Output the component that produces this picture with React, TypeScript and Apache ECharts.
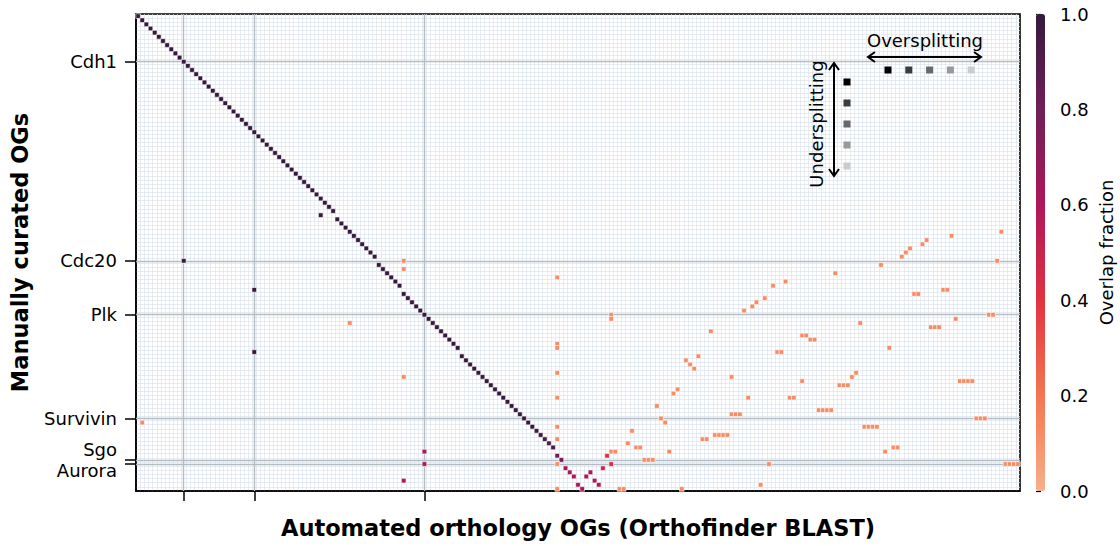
import React, { useEffect, useRef } from "react";
import * as echarts from "echarts";

const N_COLS = 213;
const N_ROWS = 115;

const yTickRows = [11, 59, 72, 97, 107, 108];
const yTickNames = ["Cdh1", "Cdc20", "Plk", "Survivin", "Sgo", "Aurora"];
const xTickCols = [11, 28, 69];

const colorbarTicks = [0, 0.2, 0.4, 0.6, 0.8, 1.0];
const rocketColors = ["#f6b08a", "#f37651", "#e13342", "#ad1759", "#701f57", "#35193e"];

// [col, row, overlap]
const diagonalCells = [
  [0, 0, 1], [1, 1, 1], [2, 2, 1], [3, 3, 1], [4, 4, 1], [5, 5, 1], [6, 6, 1], [7, 7, 1],
  [8, 8, 1], [9, 9, 1], [10, 10, 1], [11, 11, 1], [12, 12, 1], [13, 13, 1], [14, 14, 1],
  [15, 15, 1], [16, 16, 1], [17, 17, 1], [18, 18, 1], [19, 19, 1], [20, 20, 1], [21, 21, 1],
  [22, 22, 1], [23, 23, 1], [24, 24, 1], [25, 25, 1], [26, 26, 1], [27, 27, 1], [28, 28, 1],
  [29, 29, 1], [30, 30, 1], [31, 31, 1], [32, 32, 1], [33, 33, 1], [34, 34, 1], [35, 35, 1],
  [36, 36, 1], [37, 37, 1], [38, 38, 1], [39, 39, 1], [40, 40, 1], [41, 41, 1], [42, 42, 1],
  [43, 43, 1], [44, 44, 1], [45, 45, 1], [46, 46, 1], [47, 47, 1],
  [48, 49, 1], [49, 50, 1], [50, 51, 1], [51, 52, 1], [52, 53, 1], [53, 54, 1], [54, 55, 1],
  [55, 56, 1], [56, 57, 1], [57, 58, 1],
  [58, 60, 1], [59, 61, 1], [60, 62, 1], [61, 63, 1], [62, 64, 1], [63, 65, 1],
  [64, 67, 1], [65, 68, 1], [66, 69, 1], [67, 70, 1], [68, 71, 1], [69, 72, 1], [70, 73, 1],
  [71, 74, 1], [72, 75, 1], [73, 76, 1], [74, 77, 1], [75, 78, 1], [76, 79, 1], [77, 80, 1],
  [78, 82, 1], [79, 83, 1], [80, 84, 1], [81, 85, 1], [82, 86, 1], [83, 87, 1], [84, 88, 1],
  [85, 89, 1], [86, 90, 1], [87, 91, 1], [88, 92, 1], [89, 93, 1], [90, 94, 1], [91, 95, 1],
  [92, 96, 1], [93, 97, 1], [94, 98, 1], [95, 99, 1], [96, 100, 0.97], [97, 101, 0.97],
  [98, 102, 0.95], [99, 103, 0.93], [100, 104, 0.92],
];

const offDiagonalDark = [
  [44, 48, 1], [11, 59, 1], [28, 66, 1], [28, 81, 1],
];

const redCells = [
  [101, 106, 0.82], [102, 107, 0.78], [103, 109, 0.62], [104, 110, 0.6], [105, 111, 0.6],
  [106, 113, 0.6], [107, 114, 0.6], [108, 111, 0.6], [109, 110, 0.6], [110, 112, 0.58],
  [111, 113, 0.58], [112, 109, 0.5], [113, 106, 0.42], [114, 108, 0.45],
  [64, 112, 0.6], [69, 105, 0.6], [69, 108, 0.6],
];

const orangeCells = [
  [1, 98, 0.12], [51, 74, 0.12], [64, 59, 0.12], [64, 61, 0.12], [64, 87, 0.12],
  [101, 63, 0.12], [101, 79, 0.12], [101, 80, 0.12], [101, 86, 0.12], [101, 92, 0.12],
  [101, 99, 0.12], [101, 102, 0.12], [101, 108, 0.12], [101, 114, 0.12],
  [114, 72, 0.12], [114, 73, 0.12], [114, 105, 0.12], [115, 105, 0.12],
  [116, 114, 0.12], [117, 114, 0.12], [118, 103, 0.12], [119, 100, 0.12], [120, 104, 0.12],
  [121, 104, 0.12], [122, 107, 0.12], [123, 107, 0.12], [124, 107, 0.12], [125, 94, 0.12],
  [126, 97, 0.12], [127, 98, 0.12], [128, 105, 0.12], [129, 91, 0.12], [130, 90, 0.12],
  [131, 114, 0.12], [132, 83, 0.12], [133, 84, 0.12], [134, 85, 0.12], [135, 82, 0.12],
  [136, 102, 0.12], [137, 102, 0.12], [138, 76, 0.12], [139, 101, 0.12], [140, 101, 0.12],
  [141, 101, 0.12], [142, 101, 0.12], [143, 87, 0.12], [143, 96, 0.12], [144, 96, 0.12],
  [145, 96, 0.12], [146, 71, 0.12], [147, 92, 0.12], [148, 70, 0.12], [149, 69, 0.12],
  [150, 113, 0.12], [151, 68, 0.12], [152, 108, 0.12], [153, 65, 0.12], [154, 81, 0.12],
  [155, 81, 0.12], [156, 64, 0.12], [157, 92, 0.12], [158, 92, 0.12], [160, 77, 0.12],
  [161, 77, 0.12], [160, 88, 0.12], [162, 78, 0.12], [163, 78, 0.12], [164, 95, 0.12],
  [165, 95, 0.12], [166, 95, 0.12], [167, 95, 0.12], [168, 62, 0.12], [169, 89, 0.12],
  [170, 89, 0.12], [171, 89, 0.12], [172, 87, 0.12], [173, 86, 0.12], [174, 74, 0.12],
  [175, 99, 0.12], [176, 99, 0.12], [177, 99, 0.12], [178, 99, 0.12], [179, 60, 0.12],
  [180, 105, 0.12], [181, 80, 0.12], [182, 104, 0.12], [183, 104, 0.12], [184, 58, 0.12],
  [185, 57, 0.12], [186, 56, 0.12], [187, 67, 0.12], [188, 67, 0.12], [189, 55, 0.12],
  [190, 54, 0.12], [191, 75, 0.12], [192, 75, 0.12], [193, 75, 0.12], [194, 66, 0.12],
  [195, 66, 0.12], [196, 53, 0.12], [197, 73, 0.12], [198, 88, 0.12], [199, 88, 0.12],
  [200, 88, 0.12], [201, 88, 0.12], [202, 97, 0.12], [203, 97, 0.12], [204, 97, 0.12],
  [205, 72, 0.12], [206, 72, 0.12], [207, 59, 0.12], [208, 52, 0.12], [209, 108, 0.12],
  [210, 108, 0.12], [211, 108, 0.12], [212, 108, 0.12],
];

const legendShades = ["#000000", "#3c3c3c", "#696969", "#999999", "#cccccc"];

const FONT = "DejaVu Sans";
const TICK_FS = 18;
const TITLE_FS = 22.5;

export default function App() {
  const ref = useRef<HTMLDivElement>(null);

  useEffect(() => {
    document.body.style.margin = "0";
    if (!ref.current) return;
    const chart = echarts.init(ref.current, null, { renderer: "svg" });

    const xCats = Array.from({ length: N_COLS }, (_, i) => String(i));
    const yCats = Array.from({ length: N_ROWS }, (_, i) => String(i));
    const cells = [...diagonalCells, ...offDiagonalDark, ...redCells, ...orangeCells];

    const gridLeft = 136;
    const gridTop = 14;
    const gridW = 884;
    const gridH = 477;

    const Z = 50;
    const graphics: any[] = [];
    graphics.push({
      type: "text", x: 925, y: 40, z: Z,
      style: { text: "Oversplitting", fontSize: 18, fontFamily: FONT, fill: "#000", align: "center", verticalAlign: "middle" },
    });
    graphics.push({ type: "line", z: Z, shape: { x1: 868, y1: 57, x2: 981, y2: 57 }, style: { stroke: "#000", lineWidth: 2 } });
    graphics.push({ type: "polyline", z: Z, shape: { points: [[875, 52], [868, 57], [875, 62]] }, style: { stroke: "#000", lineWidth: 2, fill: null } });
    graphics.push({ type: "polyline", z: Z, shape: { points: [[974, 52], [981, 57], [974, 62]] }, style: { stroke: "#000", lineWidth: 2, fill: null } });
    legendShades.forEach((c, i) => {
      graphics.push({ type: "rect", z: Z, shape: { x: 884.5 + i * 20.8, y: 66.5, width: 7, height: 7 }, style: { fill: c } });
    });
    graphics.push({
      type: "text", x: 816, y: 124, rotation: Math.PI / 2, z: Z,
      style: { text: "Undersplitting", fontSize: 18, fontFamily: FONT, fill: "#000", align: "center", verticalAlign: "middle" },
    });
    graphics.push({ type: "line", z: Z, shape: { x1: 834, y1: 63, x2: 834, y2: 176 }, style: { stroke: "#000", lineWidth: 2 } });
    graphics.push({ type: "polyline", z: Z, shape: { points: [[829, 70], [834, 63], [839, 70]] }, style: { stroke: "#000", lineWidth: 2, fill: null } });
    graphics.push({ type: "polyline", z: Z, shape: { points: [[829, 169], [834, 176], [839, 169]] }, style: { stroke: "#000", lineWidth: 2, fill: null } });
    legendShades.forEach((c, i) => {
      graphics.push({ type: "rect", z: Z, shape: { x: 843.5, y: 78.5 + i * 21, width: 7, height: 7 }, style: { fill: c } });
    });

    const option: any = {
      animation: false,
      backgroundColor: "#fff",
      textStyle: { fontFamily: FONT },
      grid: [
        { left: gridLeft, top: gridTop, width: gridW, height: gridH, show: true, borderColor: "#000", borderWidth: 1.6, backgroundColor: "#fff", outerBoundsMode: "none", containLabel: false },
        { left: 1036, top: gridTop, width: 9, height: gridH, show: false, outerBoundsMode: "none", containLabel: false },
      ],
      xAxis: [
        {
          type: "category", data: xCats, gridIndex: 0, boundaryGap: true,
          axisLine: { show: true, lineStyle: { color: "#000", width: 1.6 } },
          axisTick: { show: true, interval: (i: number) => xTickCols.includes(i), alignWithLabel: true, length: 10, lineStyle: { color: "#000", width: 1.5 } },
          axisLabel: { show: false },
          splitLine: { show: true, interval: 0, showMinLine: false, showMaxLine: false, lineStyle: { color: "#dbe4ec", width: 0.7 } },
          name: "Automated orthology OGs (Orthofinder BLAST)", nameLocation: "middle", nameGap: 25,
          nameTextStyle: { fontSize: TITLE_FS, fontWeight: "bold", color: "#000", fontFamily: FONT },
        },
        { type: "value", gridIndex: 1, show: false, min: 0, max: 1 },
      ],
      yAxis: [
        {
          type: "category", data: yCats, gridIndex: 0, inverse: true, boundaryGap: true,
          axisLine: { show: true, lineStyle: { color: "#000", width: 1.6 } },
          axisTick: { show: true, interval: (i: number) => yTickRows.includes(i), alignWithLabel: true, length: 11, lineStyle: { color: "#000", width: 1.5 } },
          axisLabel: {
            show: true, interval: (i: number) => yTickRows.includes(i), margin: 19, hideOverlap: false,
            fontSize: TICK_FS, color: "#000", fontFamily: FONT, lineHeight: 21,
            formatter: (_v: string, i: number) => {
              const k = yTickRows.indexOf(i);
              if (k < 0) return "";
              const name = yTickNames[k];
              if (name === "Sgo") return name + "\n" + yTickNames[k + 1];
              if (name === "Aurora") return "";
              return name;
            },
          },
          splitLine: { show: true, interval: 0, showMinLine: false, showMaxLine: false, lineStyle: { color: "#dbe4ec", width: 0.7 } },
          name: "Manually curated OGs", nameLocation: "middle", nameGap: 102, nameRotate: 90,
          nameTextStyle: { fontSize: TITLE_FS, fontWeight: "bold", color: "#000", fontFamily: FONT, lineHeight: 27 },
        },
        {
          type: "value", gridIndex: 1, min: 0, max: 1, interval: 0.2, position: "right",
          axisLine: { show: false },
          axisTick: { show: true, length: 5, lineStyle: { color: "#000", width: 1.2 } },
          axisLabel: { show: true, margin: 15, fontSize: TICK_FS, color: "#000", fontFamily: FONT, formatter: (v: number) => v.toFixed(1) },
          splitLine: { show: false },
          name: "Overlap fraction", nameLocation: "middle", nameGap: 52, nameRotate: 90,
          nameTextStyle: { fontSize: TICK_FS, color: "#000", fontFamily: FONT },
        },
      ],
      visualMap: {
        type: "continuous", min: colorbarTicks[0], max: colorbarTicks[colorbarTicks.length - 1],
        seriesIndex: 0, dimension: 2, calculable: false, orient: "vertical",
        left: 1036, top: gridTop, itemWidth: 9, itemHeight: gridH, padding: 0,
        inRange: { color: rocketColors }, hoverLink: false,
      },
      series: [
        {
          type: "heatmap", xAxisIndex: 0, yAxisIndex: 0, data: cells, z: 3,
          itemStyle: { borderColor: "rgba(255,255,255,0.85)", borderWidth: 0.7 },
          emphasis: { disabled: true },
          markLine: {
            silent: true, symbol: ["none", "none"], label: { show: false }, z: 1,
            lineStyle: { color: "#b4bcc4", width: 1.4, type: "solid" },
            data: [
              ...yTickRows.map((r) => ({ yAxis: String(r) })),
              ...xTickCols.map((c) => ({ xAxis: String(c) })),
            ],
          },
        },
      ],
      graphic: graphics,
    };

    chart.setOption(option);
    return () => chart.dispose();
  }, []);

  return <div ref={ref} style={{ width: 1120, height: 546 }} />;
}
